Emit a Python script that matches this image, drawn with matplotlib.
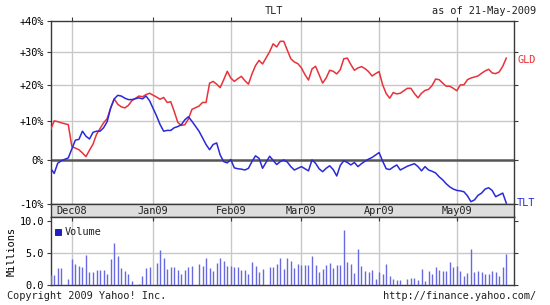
import numpy as np
import pandas as pd
import matplotlib
matplotlib.use("Agg")
import matplotlib.pyplot as plt
from matplotlib.ticker import FixedLocator, NullLocator, FixedFormatter

plt.rcParams['font.family'] = ['DejaVu Sans Mono']

# ---------------- data ----------------
holidays = ['2008-11-27', '2008-12-25', '2009-01-01', '2009-01-19', '2009-02-16', '2009-04-10']
start_date = '2008-11-21'
end_date = '2009-05-21'

gld_pct = [7.7, 10.0, 9.8, 9.5, 9.0,
           3.4, 3.0, 2.6, 1.8, 0.9, 2.5, 4.0, 6.5, 8.0, 9.5, 10.6, 13.5, 16.0, 14.5, 13.8, 13.5, 14.2, 15.5, 16.8, 16.6, 17.2, 17.6,
           16.5, 15.9, 16.4, 15.0, 15.2, 12.5, 9.6, 8.8, 9.0, 10.5, 13.1, 14.0, 15.0, 15.0, 20.5, 21.0, 20.2, 19.2, 21.5, 24.0,
           22.0, 21.0, 21.8, 22.5, 21.2, 20.2, 23.2, 25.7, 27.3, 26.2, 30.0, 32.5, 31.5, 33.3, 33.3, 30.5, 27.8, 26.8, 26.3,
           25.0, 23.0, 21.4, 24.7, 25.5, 23.0, 20.5, 22.0, 24.3, 24.0, 23.2, 24.5, 27.8, 28.0, 26.0, 24.3, 25.0, 25.4, 24.8, 23.9, 22.6, 23.3,
           23.9, 20.0, 17.5, 16.2, 17.8, 17.4, 17.6, 19.0, 19.0, 17.5, 16.3, 17.6, 18.4, 18.7, 19.8, 21.7, 21.5, 20.5, 19.6, 19.6, 19.0,
           18.3, 20.0, 20.0, 21.5, 22.0, 22.3, 22.6, 23.4, 24.1, 24.6, 23.5, 23.3, 23.8, 25.5, 28.0]

tlt_pct = [-1.9, -3.1, -0.7, -0.1, 0.6,
           2.8, 5.0, 5.2, 7.3, 6.0, 5.3, 7.0, 7.3, 7.3, 8.2, 9.8, 13.5, 16.0, 17.0, 16.8, 16.2, 15.8, 15.8, 16.3, 16.0, 16.8, 15.5,
           11.3, 9.0, 7.3, 7.5, 7.5, 8.2, 8.5, 9.0, 10.3, 11.1, 9.9, 7.3, 5.6, 3.9, 2.6, 3.9, 4.3, 1.3, -0.3, -0.6,
           0.2, -1.8, -2.0, -2.1, -2.3, -1.9, -0.3, 1.1, 0.5, -1.9, 1.0, 0.0, -1.0, -0.3, 0.1, -0.4, -1.5, -2.3, -1.9,
           -1.5, -2.0, -2.5, 0.1, -0.7, -2.0, -2.7, -1.9, -1.3, -2.2, -3.7, -1.2, -0.1, -0.5, -1.1, -0.5, -1.5, -0.8, -0.2, 0.3, 0.7, 1.3,
           1.9, -0.2, -2.0, -2.2, -1.6, -1.1, -2.3, -1.4, -1.1, -0.8, -1.5, -2.5, -1.5, -2.3, -2.6, -3.0, -3.9, -4.6, -5.5, -6.2, -6.7,
           -7.0, -7.1, -7.3, -8.2, -9.5, -9.1, -8.1, -7.6, -6.7, -6.4, -7.0, -8.4, -8.0, -7.6, -9.8]

volume_m = [1.5, 1.5, 2.65, 2.65, 0.9,
            4.05, 3.3, 2.9, 2.8, 4.65, 2.0, 2.0, 2.3, 2.3, 2.4, 1.65, 4.05, 6.55, 4.5, 2.65, 2.15, 1.75, 0.65, 0.15, 1.35, 2.65, 2.75,
            3.4, 5.4, 4.15, 2.55, 2.75, 2.85, 2.4, 1.75, 2.4, 2.75, 2.9, 3.3, 2.9, 4.15, 2.65, 2.15, 3.4, 4.25, 3.75, 2.9,
            3.0, 2.85, 2.8, 2.3, 2.4, 1.65, 3.65, 2.9, 2.05, 2.55, 2.75, 2.75, 3.25, 4.15, 2.55, 4.15, 3.75, 2.65, 3.25,
            3.15, 3.05, 3.05, 4.55, 3.15, 2.05, 2.55, 3.15, 3.4, 2.65, 3.15, 3.05, 8.65, 3.65, 3.25, 1.9, 5.55, 2.9, 2.15, 2.05, 2.3, 1.0,
            2.05, 1.65, 3.25, 1.4, 1.0, 0.8, 0.8, 0.9, 1.15, 1.05, 0.8, 2.55, 0.65, 2.15, 1.65, 2.75, 2.3, 2.25, 2.25, 3.65, 2.8,
            2.9, 2.15, 1.4, 1.9, 5.65, 2.05, 2.15, 2.05, 1.75, 1.65, 2.15, 2.05, 1.4, 2.75, 4.9]

month_starts = ['2008-12-01', '2009-01-01', '2009-02-01', '2009-03-01', '2009-04-01', '2009-05-01']
month_labels = ['Dec08', 'Jan09', 'Feb09', 'Mar09', 'Apr09', 'May09']
pct_ticks = [-10, 0, 10, 20, 30, 40]
pct_labels = ['-10%', '0%', '+10%', '+20%', '+30%', '+40%']
vol_ticks = [0.0, 5.0, 10.0]
vol_labels = ['0.0', '5.0', '10.0']

# ---------------- positions (weekday axis) ----------------
dates = pd.bdate_range(start_date, end_date, freq='C', holidays=holidays)
d64 = dates.values.astype('datetime64[D]')
x = np.busday_count(np.datetime64(start_date), d64)
mx = np.busday_count(np.datetime64(start_date), np.array(month_starts, dtype='datetime64[D]'))

gld = 1 + np.array(gld_pct) / 100.0
tlt = 1 + np.array(tlt_pct) / 100.0
vol = np.array(volume_m)

RED = '#e8323a'
BLUE = '#2a2ad8'
GRID = '#c8c8c8'
FRAME = '#3a3a3a'
FS = 7.4

W, H = 550, 305
fig = plt.figure(figsize=(W / 100, H / 100), dpi=100)
fig.patch.set_facecolor('white')


def rect(x0, y0, x1, y1):
    return [x0 / W, 1 - y1 / H, (x1 - x0) / W, (y1 - y0) / H]


L, R = 51, 513.7
XL = (0.1, 131.1)
ax = fig.add_axes(rect(L, 21, R, 204))
axb = fig.add_axes(rect(L, 204, R, 217))
axv = fig.add_axes(rect(L, 217, R, 285))

# ---- main panel ----
ax.set_yscale('log')
ax.set_xlim(*XL)
ax.set_ylim(0.9, 1.4)
for m in mx:
    ax.axvline(m, color=GRID, lw=1.0, zorder=1)
for t in pct_ticks[2:5]:
    ax.axhline(1 + t / 100, color=GRID, lw=1.0, zorder=1)
ax.axhline(1.0, color='#555555', lw=1.8, zorder=2)
ax.plot(x, gld, color=RED, lw=1.1, zorder=4)
ax.plot(x, tlt, color=BLUE, lw=1.1, zorder=4)
ax.yaxis.set_major_locator(FixedLocator([1 + t / 100 for t in pct_ticks]))
ax.yaxis.set_major_formatter(FixedFormatter(pct_labels))
ax.yaxis.set_minor_locator(NullLocator())
ax.tick_params(axis='y', left=True, right=True, labelright=False, direction='out',
               length=3, width=0.8, color=FRAME, labelsize=FS, pad=2)
ax.xaxis.set_major_locator(FixedLocator(mx))
ax.tick_params(axis='x', top=True, bottom=False, labelbottom=False, labeltop=False,
               direction='out', length=3, width=0.8, color=FRAME)
for s in ax.spines.values():
    s.set_color(FRAME)
    s.set_linewidth(1.0)

# ---- date band ----
axb.set_xlim(*XL)
axb.set_ylim(0, 1)
axb.set_facecolor('#dedede')
axb.set_xticks([])
axb.set_yticks([])
for m, lab in zip(mx, month_labels):
    axb.text(m, 0.45, lab, ha='center', va='center', fontsize=FS, color='#222222')
for s in axb.spines.values():
    s.set_color(FRAME)
    s.set_linewidth(1.0)

# ---- volume panel ----
axv.set_xlim(*XL)
axv.set_ylim(0, 10.6)
for m in mx:
    axv.axvline(m, color=GRID, lw=1.0, zorder=1)
axv.axhline(5.0, color=GRID, lw=1.0, zorder=1)
axv.vlines(x, 0, vol, color='#6a6ae0', lw=1.0, zorder=3)
axv.yaxis.set_major_locator(FixedLocator(vol_ticks))
axv.yaxis.set_major_formatter(FixedFormatter(vol_labels))
axv.tick_params(axis='y', left=True, right=True, labelright=False, direction='out',
                length=3, width=0.8, color=FRAME, labelsize=FS, pad=2)
axv.xaxis.set_major_locator(FixedLocator(mx))
axv.tick_params(axis='x', top=True, bottom=False, labelbottom=False, direction='in',
                length=3, width=0.8, color=FRAME)
axv.set_ylabel('Millions', fontsize=FS, labelpad=2)
for s in axv.spines.values():
    s.set_color(FRAME)
    s.set_linewidth(1.0)
axv.plot([2.0], [8.2], marker='s', ms=5, mfc='#2020c0', mec='#222222', mew=0.6, ls='none', zorder=5)
axv.text(3.9, 8.2, 'Volume', fontsize=FS, va='center', ha='left', color='#222222')

# ---- texts ----
fig.text(273.5 / W, 1 - 11.5 / H, 'TLT', ha='center', va='center', fontsize=FS, color='#222222')
fig.text(536 / W, 1 - 11.5 / H, 'as of 21-May-2009', ha='right', va='center', fontsize=FS, color='#222222')
fig.text(517 / W, 1 - 60 / H, 'GLD', ha='left', va='center', fontsize=FS, color=RED)
fig.text(517 / W, 1 - 203 / H, 'TLT', ha='left', va='center', fontsize=FS, color=BLUE)
fig.text(7 / W, 1 - 296 / H, 'Copyright 2009 Yahoo! Inc.', ha='left', va='center', fontsize=FS, color='#222222')
fig.text(536 / W, 1 - 296 / H, 'http://finance.yahoo.com/', ha='right', va='center', fontsize=FS, color='#222222')

fig.savefig('out.png', dpi=100)
